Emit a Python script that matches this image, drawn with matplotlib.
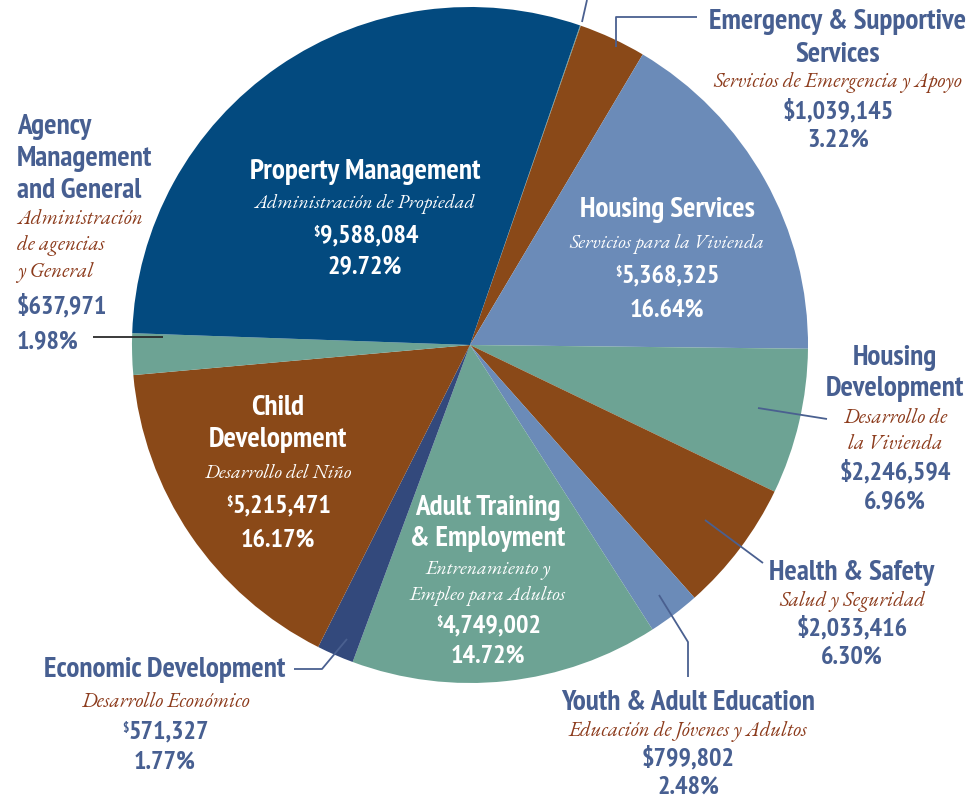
import matplotlib
matplotlib.use("Agg")
import matplotlib.pyplot as plt

# ---------------- data ----------------
categories = ["", "Emergency & Supportive Services", "Housing Services",
              "Housing Development", "Health & Safety", "Youth & Adult Education",
              "Adult Training & Employment", "Economic Development",
              "Child Development", "Agency Management and General",
              "Property Management"]
spanish = ["", "Servicios de Emergencia y Apoyo", "Servicios para la Vivienda",
           "Desarrollo de la Vivienda", "Salud y Seguridad",
           "Educación de Jóvenes y Adultos", "Entrenamiento y Empleo para Adultos",
           "Desarrollo Económico", "Desarrollo del Niño",
           "Administración de agencias y General", "Administración de Propiedad"]
values = [12250, 1039145, 5368325, 2246594, 2033416, 799802, 4749002,
          571327, 5215471, 637971, 9588084]
percents = ["", "3.22%", "16.64%", "6.96%", "6.30%", "2.48%", "14.72%",
            "1.77%", "16.17%", "1.98%", "29.72%"]

# ---------------- style ----------------
NAVY = "#034a7f"; BROWN = "#8a4918"; STEEL = "#6b8bb8"; TEAL = "#6da394"; INDIGO = "#33497c"
colors = [TEAL, BROWN, STEEL, TEAL, BROWN, STEEL, TEAL, INDIGO, BROWN, TEAL, NAVY]
LBL = "#475f91"; ITAL = "#8c3b1c"; LINE = "#4a6090"
SANS = ["PT Sans Narrow", "Roboto Condensed", "DejaVu Sans"]
SERIF = ["EB Garamond", "Liberation Serif", "DejaVu Serif"]
T_SIZE = 21; I_SIZE_OUT = 15; I_SIZE_IN = 14.2; A_SIZE = 18.8; SUP_SIZE = 9.5

fig = plt.figure(figsize=(9.72, 8), dpi=100)
ax = fig.add_axes([0, 0, 1, 1])
ax.pie(values, colors=colors, startangle=-71, counterclock=True,
       center=(470, 345), radius=338, wedgeprops=dict(linewidth=0))
ax.set_xlim(0, 972)
ax.set_ylim(800, 0)
ax.set_aspect("equal")
ax.axis("off")

def amount(i):
    return f"{values[i]:,}"

# label blocks: (index, x, ha, title lines, italic lines, baselines, inside, superscript $)
blocks = [
    (10, 365, "center", ["Property Management"], ["Administración de Propiedad"],
     [179, 208, 242, 273], True, True),
    (2, 667, "center", ["Housing Services"], ["Servicios para la Vivienda"],
     [217, 248, 282, 317], True, True),
    (8, 278, "center", ["Child", "Development"], ["Desarrollo del Niño"],
     [415, 447, 478, 512, 547], True, True),
    (6, 488, "center", ["Adult Training", "& Employment"],
     ["Entrenamiento y", "Empleo para Adultos"],
     [515, 546, 574, 600, 632, 663], True, True),
    (9, 17, "left", ["Agency", "Management", "and General"],
     ["Administración", "de agencias", "y General"],
     [134, 166, 198, 224, 250, 277, 313, 348], False, False),
    (1, 838, "center", ["Emergency & Supportive", "Services"],
     ["Servicios de Emergencia y Apoyo"],
     [29, 62, 87, 118, 147], False, False),
    (3, 895, "center", ["Housing", "Development"], ["Desarrollo de", "la Vivienda"],
     [365, 396, 423, 449, 479, 508], False, False),
    (4, 852, "center", ["Health & Safety"], ["Salud y Seguridad"],
     [580, 606, 635, 664], False, False),
    (5, 688, "center", ["Youth & Adult Education"], ["Educación de Jóvenes y Adultos"],
     [710, 736, 765, 794], False, False),
    (7, 165, "center", ["Economic Development"], ["Desarrollo Económico"],
     [677, 707, 738, 769], False, True),
]

for idx, x, ha, tlines, ilines, ys, inside, sup in blocks:
    tc = "white" if inside else LBL
    ic = "white" if inside else ITAL
    isz = I_SIZE_IN if inside else I_SIZE_OUT
    k = 0
    for t in tlines:
        ax.text(x, ys[k], t, ha=ha, va="baseline", color=tc, fontsize=T_SIZE,
                fontweight="bold", family=SANS)
        k += 1
    for t in ilines:
        ax.text(x, ys[k], t, ha=ha, va="baseline", color=ic, fontsize=isz,
                style="italic", family=SERIF)
        k += 1
    if sup:
        num = ax.text(x + 4, ys[k], amount(idx), ha=ha, va="baseline", color=tc,
                      fontsize=A_SIZE, fontweight="bold", family=SANS)
        ax.annotate(r"\$", xy=(0, 0.93), xycoords=num, ha="right", va="top",
                    color=tc, fontsize=SUP_SIZE, fontweight="bold", family=SANS)
    else:
        ax.text(x, ys[k], r"\$" + amount(idx), ha=ha, va="baseline", color=tc,
                fontsize=A_SIZE, fontweight="bold", family=SANS)
    k += 1
    ax.text(x, ys[k], percents[idx], ha=ha, va="baseline", color=tc,
            fontsize=A_SIZE, fontweight="bold", family=SANS)

# leader lines
leaders = [
    ([587, 582], [0, 22], LINE),
    ([616, 616, 697], [47, 17, 17], LINE),
    ([93, 163], [337, 337], "#2b2b2b"),
    ([758, 827], [408, 419], LINE),
    ([705, 763], [520, 563], LINE),
    ([659, 688, 688], [595, 642, 677], LINE),
    ([294, 322, 347], [669, 669, 639], LINE),
]
for xs, ys, c in leaders:
    ax.plot(xs, ys, color=c, lw=1.3, solid_capstyle="butt")

fig.savefig("out.png", dpi=100)
